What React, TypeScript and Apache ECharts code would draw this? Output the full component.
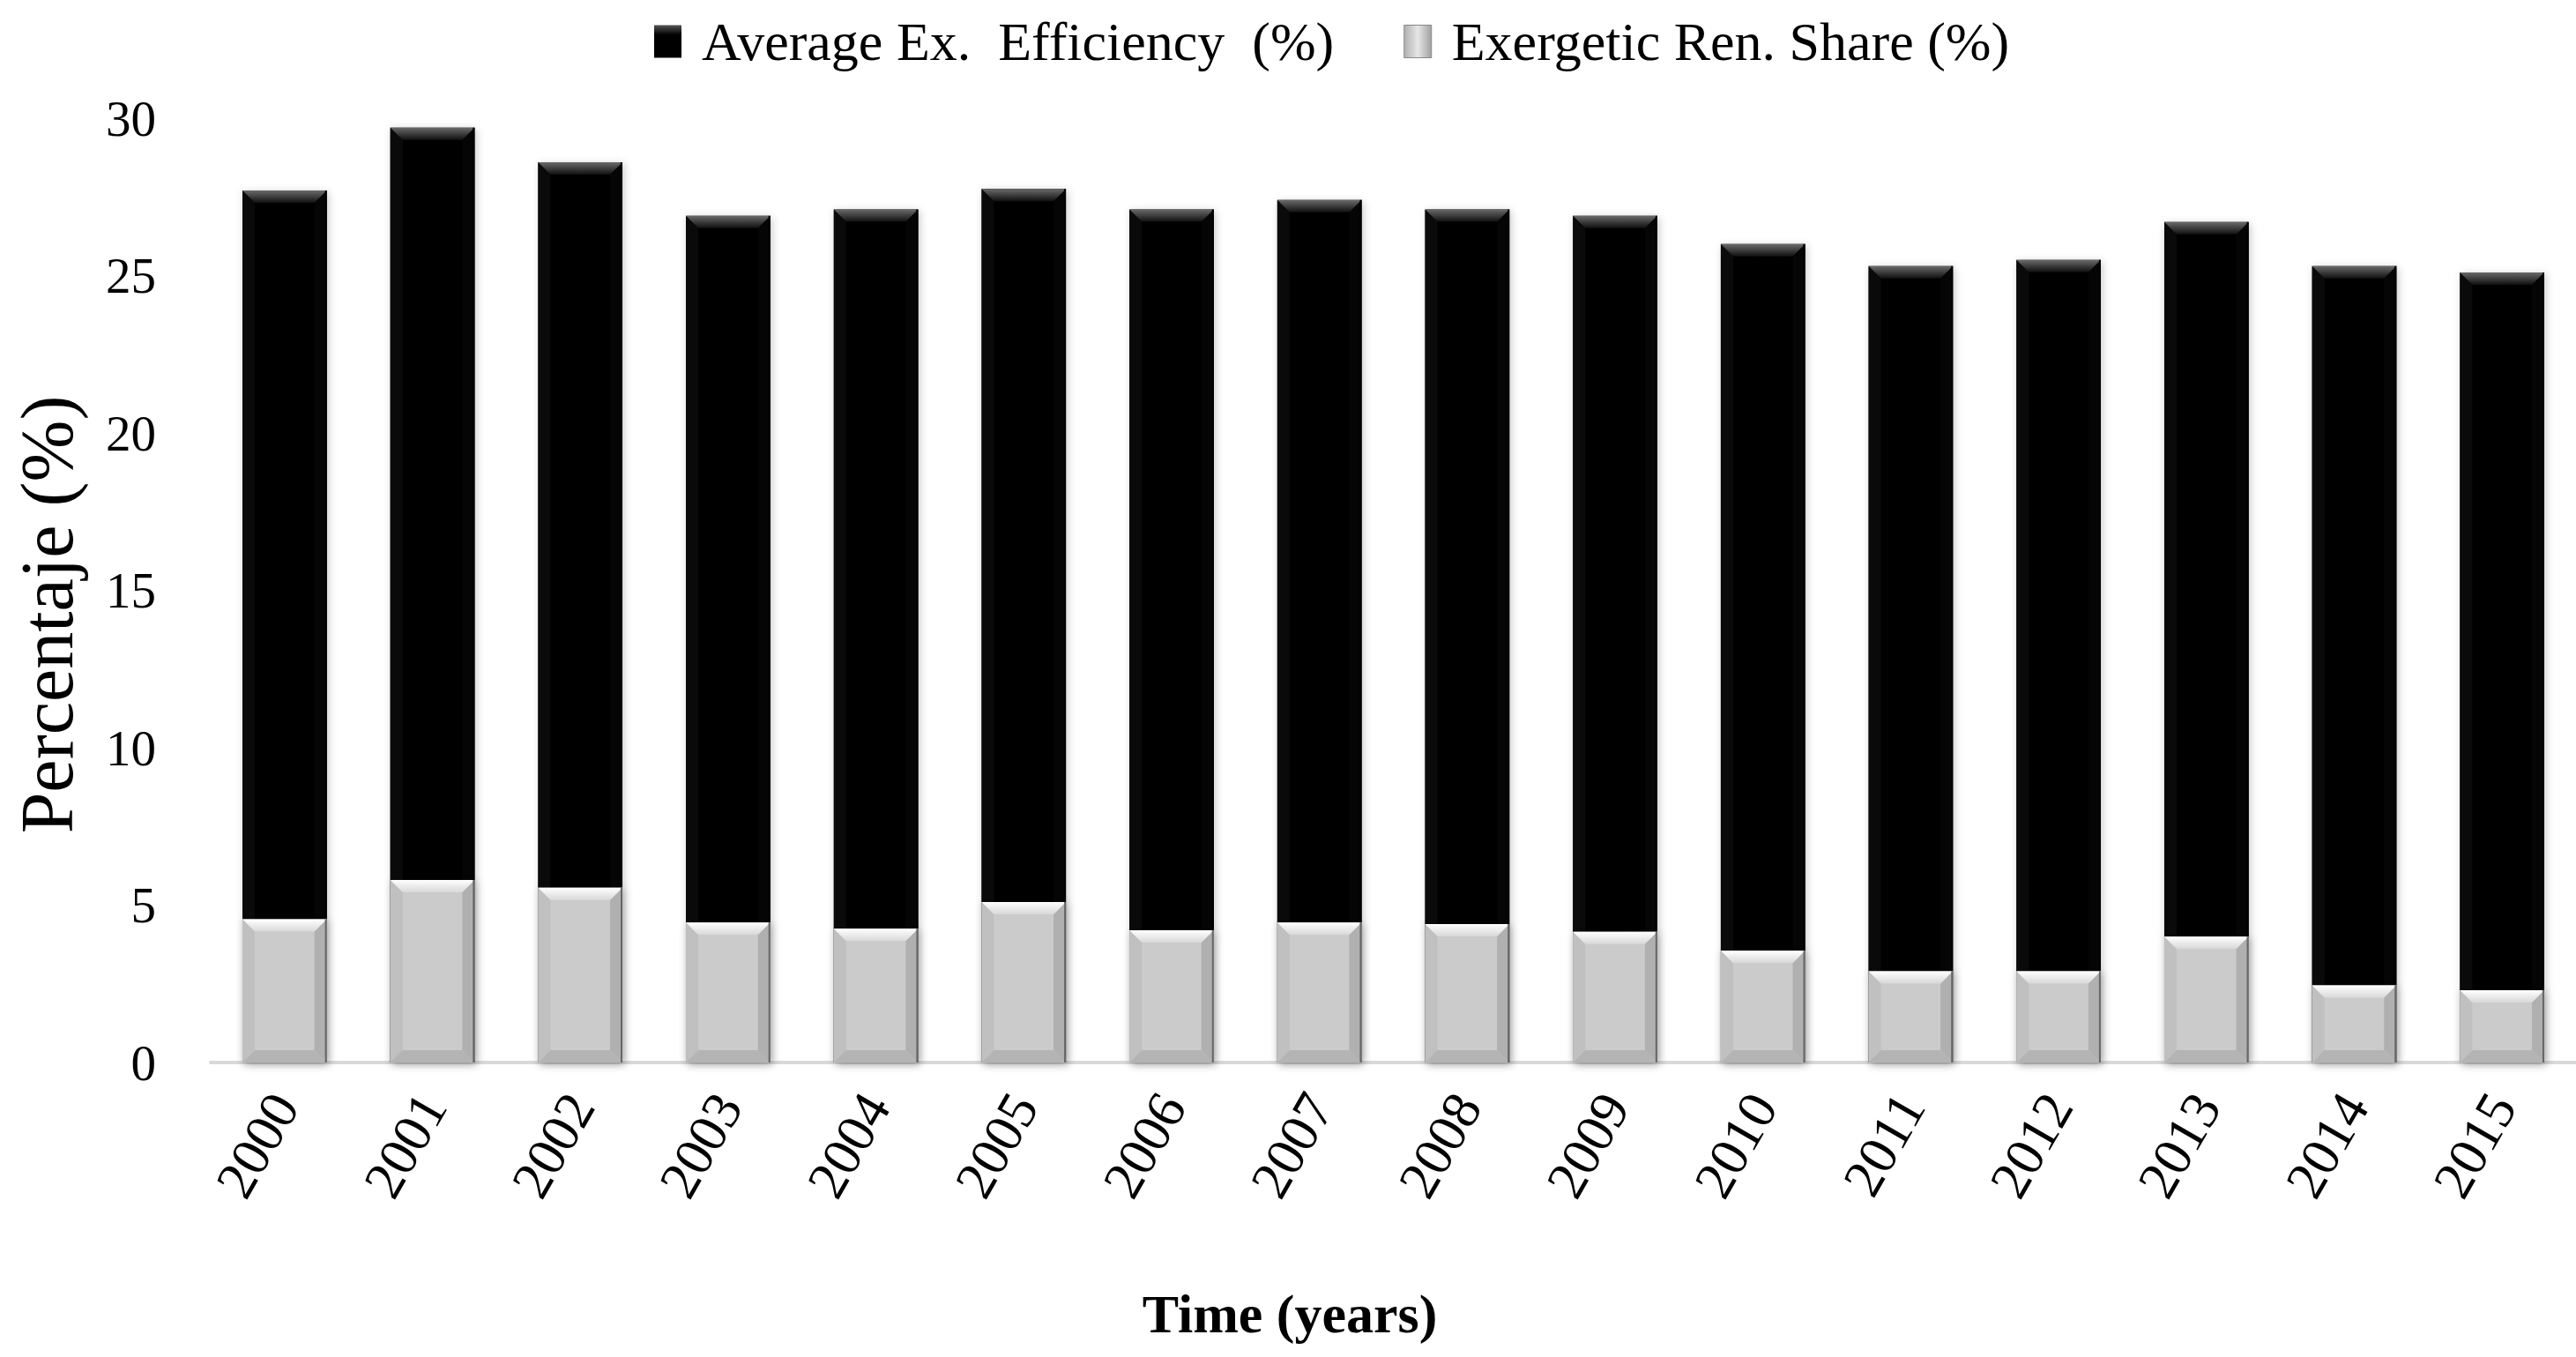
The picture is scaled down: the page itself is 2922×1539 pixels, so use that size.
import React, { useEffect, useRef } from "react";
import * as echarts from "echarts";

const years = ["2000","2001","2002","2003","2004","2005","2006","2007","2008","2009","2010","2011","2012","2013","2014","2015"];
const avgExEfficiency = [27.7, 29.7, 28.6, 26.9, 27.1, 27.75, 27.1, 27.4, 27.1, 26.9, 26.0, 25.3, 25.5, 26.7, 25.3, 25.1];
const exergeticRenShare = [4.55, 5.8, 5.55, 4.45, 4.25, 5.1, 4.2, 4.45, 4.4, 4.15, 3.55, 2.9, 2.9, 4.0, 2.45, 2.3];
const seriesNames = ["Average Ex.  Efficiency  (%)", "Exergetic Ren. Share (%)"];
const yTicks = { min: 0, max: 30, interval: 5 };

const FONT = "'Liberation Serif', 'Times New Roman', serif";
const BAR_RATIO = 0.57;
const BEVEL = 14;

type Palette = { main: string; topA: string; topB: string; left: string; right: string; bottom: string; edge: string };
const blackPal: Palette = { main: "#000000", topA: "#6a6a6a", topB: "#101010", left: "#0a0a0a", right: "#050505", bottom: "#080808", edge: "#000000" };
const greyPal: Palette = { main: "#cbcbcb", topA: "#ffffff", topB: "#d8d8d8", left: "#c0c0c0", right: "#b0b0b0", bottom: "#b4b4b4", edge: "#666666" };

function makeRender(p: Palette) {
  return (params: any, api: any) => {
    const i = api.value(0);
    const v = api.value(1);
    const top = api.coord([i, v]);
    const base = api.coord([i, 0]);
    const w = api.size([1, 0])[0] * BAR_RATIO;
    const x0 = top[0] - w / 2;
    const x1 = top[0] + w / 2;
    const y0 = top[1];
    const y1 = base[1];
    const b = Math.min(BEVEL, (y1 - y0) / 2, w / 2);
    return {
      type: "group",
      children: [
        {
          type: "rect",
          shape: { x: x0, y: y0, width: w, height: y1 - y0 },
          style: { fill: p.main, shadowBlur: 10, shadowColor: "rgba(0,0,0,0.22)", shadowOffsetX: 2, shadowOffsetY: 2 },
        },
        {
          type: "polygon",
          shape: { points: [[x0, y0], [x0 + b, y0 + b], [x0 + b, y1 - b], [x0, y1]] },
          style: { fill: p.left },
        },
        {
          type: "polygon",
          shape: { points: [[x1, y0], [x1 - b, y0 + b], [x1 - b, y1 - b], [x1, y1]] },
          style: { fill: p.right },
        },
        {
          type: "polygon",
          shape: { points: [[x0, y1], [x0 + b, y1 - b], [x1 - b, y1 - b], [x1, y1]] },
          style: { fill: p.bottom },
        },
        {
          type: "polygon",
          shape: { points: [[x0, y0], [x1, y0], [x1 - b, y0 + b], [x0 + b, y0 + b]] },
          style: {
            fill: new echarts.graphic.LinearGradient(0, 0, 0, 1, [
              { offset: 0, color: p.topA },
              { offset: 1, color: p.topB },
            ]),
          },
        },
        {
          type: "line",
          shape: { x1: x1 - 1, y1: y0, x2: x1 - 1, y2: y1 },
          style: { stroke: p.edge, lineWidth: 2 },
        },
      ],
    };
  };
}

export default function App() {
  const ref = useRef<HTMLDivElement>(null);
  useEffect(() => {
    document.body.style.margin = "0";
    if (!ref.current) return;
    const chart = echarts.init(ref.current, null, { renderer: "svg" });
    chart.setOption({
      animation: false,
      backgroundColor: "#ffffff",
      textStyle: { fontFamily: FONT, color: "#000" },
      grid: { left: 239, right: 0, top: 134, bottom: 334, containLabel: false },
      legend: {
        left: 742,
        top: 16,
        padding: 0,
        itemWidth: 31,
        itemHeight: 37,
        itemGap: 79,
        textStyle: { fontFamily: FONT, fontSize: 62, color: "#000", padding: [0, 0, 0, 18] },
        data: [
          {
            name: seriesNames[0],
            icon: "rect",
            itemStyle: {
              color: new echarts.graphic.LinearGradient(0, 0, 0, 1, [
                { offset: 0, color: "#555" },
                { offset: 0.3, color: "#000" },
                { offset: 1, color: "#000" },
              ]),
            },
          },
          {
            name: seriesNames[1],
            icon: "rect",
            itemStyle: {
              color: new echarts.graphic.LinearGradient(0, 0, 1, 0, [
                { offset: 0, color: "#b0b0b0" },
                { offset: 0.5, color: "#e6e6e6" },
                { offset: 1, color: "#a0a0a0" },
              ]),
              borderColor: "#888",
              borderWidth: 1,
            },
          },
        ],
      },
      xAxis: {
        type: "category",
        data: years,
        axisLine: { show: true, lineStyle: { color: "#d9d9d9", width: 4 } },
        axisTick: { show: false },
        axisLabel: { interval: 0, rotate: 60, fontSize: 62, margin: 40, color: "#000", fontFamily: FONT },
        splitLine: { show: false },
      },
      yAxis: {
        type: "value",
        min: yTicks.min,
        max: yTicks.max,
        interval: yTicks.interval,
        axisLine: { show: false },
        axisTick: { show: false },
        splitLine: { show: false },
        axisLabel: { fontSize: 57, margin: 62, color: "#000", fontFamily: FONT },
      },
      series: [
        {
          name: seriesNames[0],
          type: "custom",
          renderItem: makeRender(blackPal),
          itemStyle: { color: "#000" },
          encode: { x: 0, y: 1 },
          data: avgExEfficiency.map((v, i) => [i, v]),
        },
        {
          name: seriesNames[1],
          type: "custom",
          renderItem: makeRender(greyPal),
          itemStyle: { color: "#cbcbcb" },
          encode: { x: 0, y: 1 },
          data: exergeticRenShare.map((v, i) => [i, v]),
        },
      ],
      graphic: [
        {
          type: "text",
          x: 53,
          y: 697,
          rotation: Math.PI / 2,
          style: { text: "Percentaje (%)", font: `84px ${FONT}`, fill: "#000", textAlign: "center", textVerticalAlign: "middle" },
        },
        {
          type: "text",
          x: 1463,
          y: 1490,
          style: { text: "Time (years)", font: `bold 62px ${FONT}`, fill: "#000", textAlign: "center", textVerticalAlign: "middle" },
        },
      ],
    });
    return () => chart.dispose();
  }, []);
  return <div ref={ref} style={{ width: 2922, height: 1539 }} />;
}
